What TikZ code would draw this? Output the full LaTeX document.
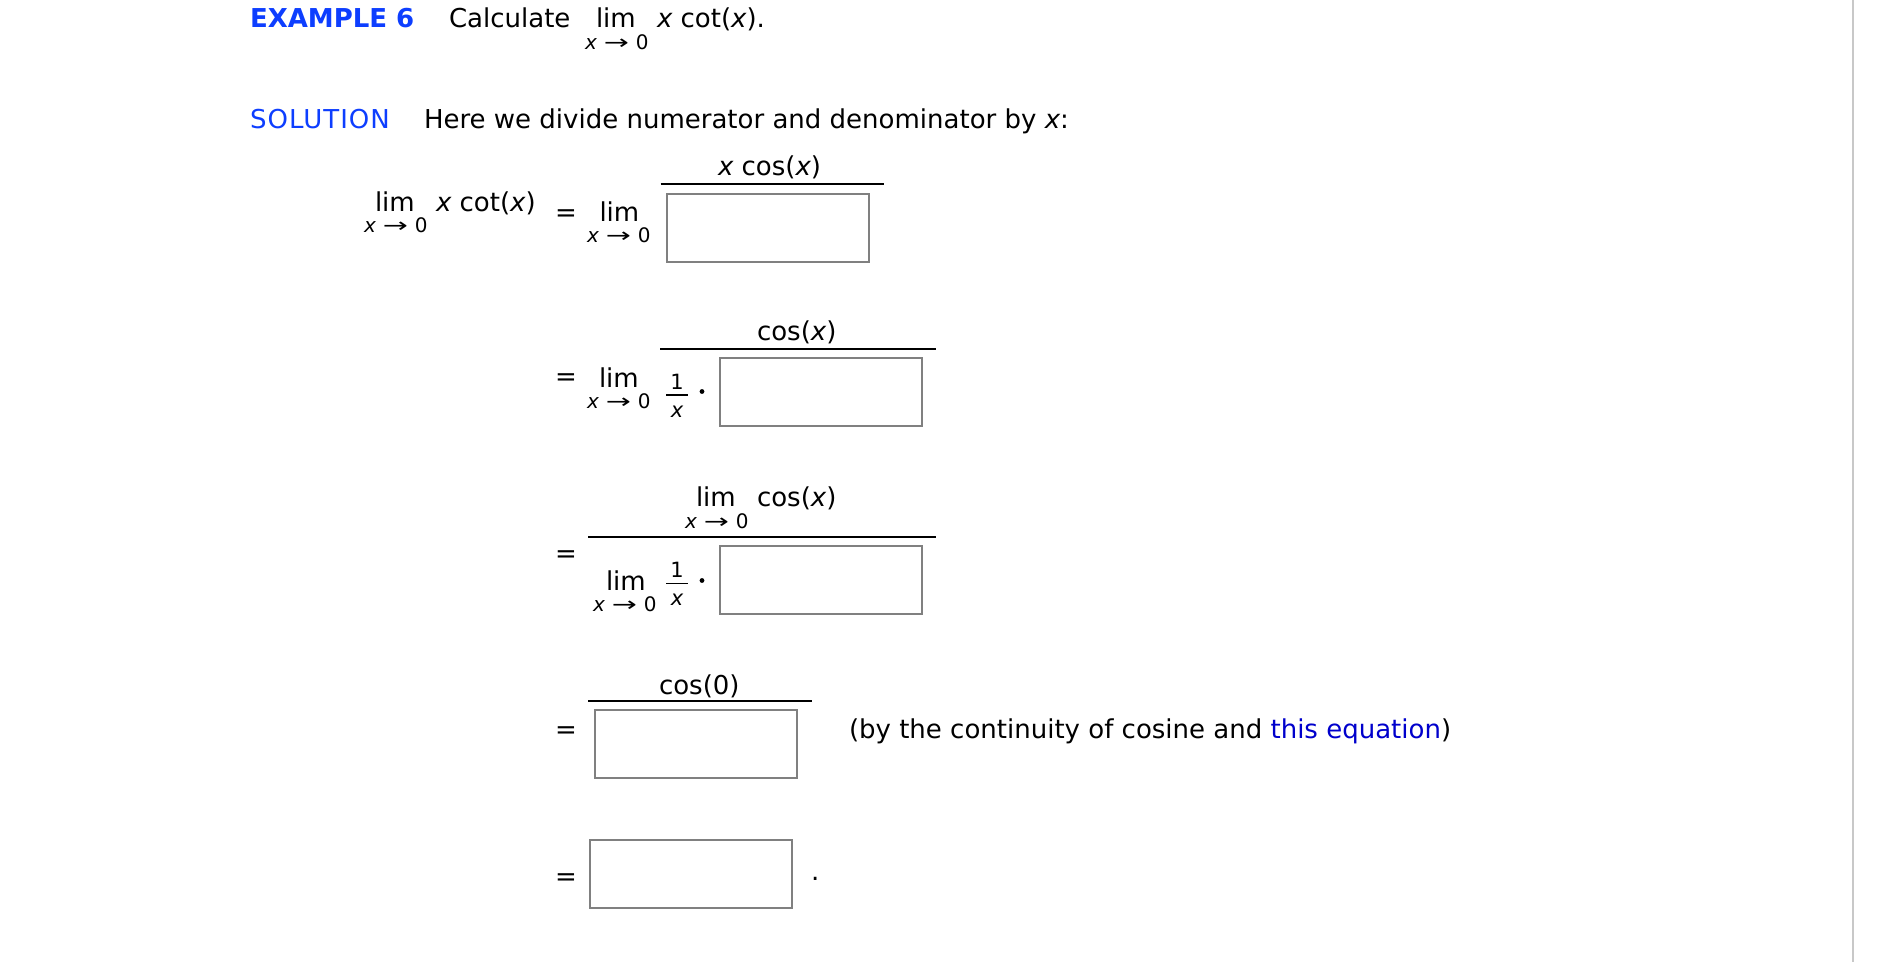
\documentclass[tikz,border=0pt]{standalone}
\usepackage{fontspec}
\usepackage{graphicx}
\setmainfont{DejaVu Sans}
\definecolor{hdblue}{RGB}{13,62,255}
\definecolor{linkblue}{RGB}{0,0,204}
\definecolor{boxgray}{RGB}{128,128,128}
\definecolor{edgegray}{RGB}{200,200,200}
\newcommand\vx{{\itshape x}}
\newcommand\xtozero{{\itshape x}\hspace{3.5pt}\scalebox{1.5}[1]{→}\hspace{3.5pt}0}
\begin{document}
\begin{tikzpicture}[x=0.5pt,y=-0.5pt,
  txt/.style={inner sep=0pt, outer sep=0pt, anchor=base west, font=\fontsize{13pt}{15pt}\selectfont},
  subtxt/.style={txt, font=\fontsize{10pt}{12pt}\selectfont},
  smtxt/.style={inner sep=0pt, outer sep=0pt, anchor=base, font=\fontsize{10.5pt}{12pt}\selectfont},
  ansbox/.style={draw=boxgray, line width=1pt, fill=white, anchor=north west, inner sep=0pt, minimum width=101pt, minimum height=34pt},
  fbar/.style={line width=1pt},
  sbar/.style={line width=0.75pt},
  dotmark/.style={circle, fill=black, inner sep=0pt, minimum size=2.4pt}]
\fill[white] (0,0) rectangle (1878,962);
\useasboundingbox (0,0) rectangle (1878,962);
\draw[edgegray, line width=1pt] (1853,0) -- (1853,962);
% header
\node[txt, font=\fontsize{13pt}{15pt}\selectfont\bfseries, text=hdblue] (ex) at (250,28) {EXAMPLE 6};
\node[txt] (calc) at (449,28) {Calculate};
\node[txt] (lim0) at (596,28) {lim};
\node[subtxt] (sub0) at (585,50) {\xtozero};
\node[txt] (xcot0) at (657,28) {\vx\ cot(\vx).};
% solution
\node[txt, text=hdblue] (sol) at (250,128.3) {\addfontfeature{LetterSpace=4}SOLUTION};
\node[txt] (here) at (424,128.3) {Here we divide numerator and denominator by \vx:};
% row 1
\node[txt] (lim1a) at (375,212) {lim};
\node[subtxt] (sub1a) at (364,233) {\xtozero};
\node[txt] (xcot1) at (436,212) {\vx\ cot(\vx)};
\node[txt] (eq1) at (555,222) {=};
\node[txt] (lim1b) at (599.5,222) {lim};
\node[subtxt] (sub1b) at (587,243) {\xtozero};
\node[txt] (num1) at (718,176) {\vx\ cos(\vx)};
\draw[fbar] (660.5,184.3) -- (884,184.3);
\node[ansbox] (b1) at (666,193) {};
% row 2
\node[txt] (eq2) at (555,386) {=};
\node[txt] (lim2) at (599,387) {lim};
\node[subtxt] (sub2) at (587,408.5) {\xtozero};
\node[smtxt] (one2) at (677,389) {1};
\draw[sbar] (666,395) -- (688,395);
\node[smtxt] (x2) at (677,417) {\vx};
\node[dotmark] (dot2) at (702,391.5) {};
\node[txt] (num2) at (757,341) {cos(\vx)};
\draw[fbar] (660,349) -- (936,349);
\node[ansbox] (b2) at (719,357) {};
% row 3
\node[txt] (lim3n) at (696,506) {lim};
\node[subtxt] (sub3n) at (685,528) {\xtozero};
\node[txt] (cos3) at (757,506) {cos(\vx)};
\draw[fbar] (588,537) -- (936,537);
\node[txt] (eq3) at (555,562) {=};
\node[txt] (lim3d) at (606,590) {lim};
\node[subtxt] (sub3d) at (593,611) {\xtozero};
\node[smtxt] (one3) at (677,577) {1};
\draw[sbar] (666,583.4) -- (688,583.4);
\node[smtxt] (x3) at (677,605) {\vx};
\node[dotmark] (dot3) at (702,580.5) {};
\node[ansbox] (b3) at (719,545) {};
% row 4
\node[txt] (cos0) at (659,694) {cos(0)};
\draw[fbar] (588,701) -- (812,701);
\node[txt] (eq4) at (555,738) {=};
\node[ansbox] (b4) at (594,709) {};
\node[txt] (by) at (849,738) {(by the continuity of cosine and \textcolor{linkblue}{this equation})};
% row 5
\node[txt] (eq5) at (555,885) {=};
\node[ansbox] (b5) at (589,839) {};
\node[txt] (per5) at (811,880) {.};
\end{tikzpicture}
\end{document}
